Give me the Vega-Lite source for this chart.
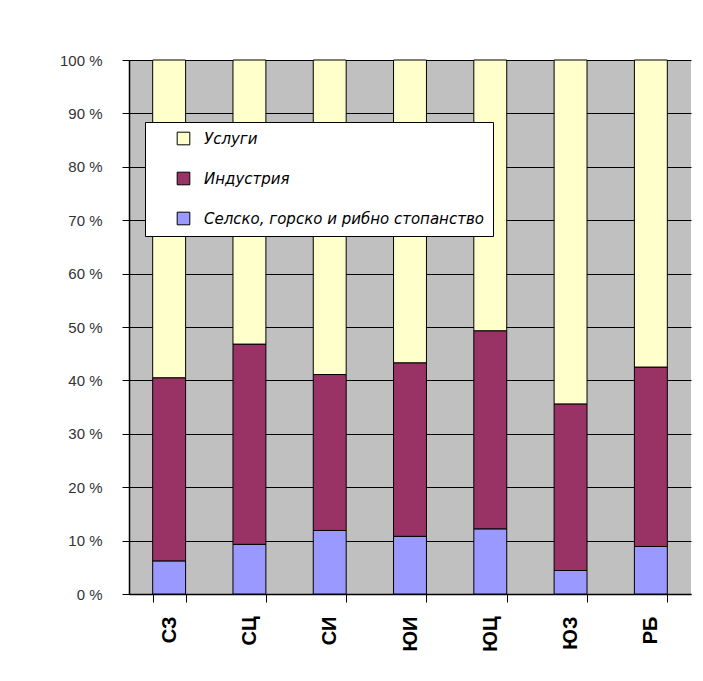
{
  "$schema": "https://vega.github.io/schema/vega-lite/v6.json",
  "width": 562,
  "height": 534,
  "autosize": {"type": "none"},
  "padding": {"left": 129, "top": 60, "right": 12, "bottom": 87},
  "background": "white",
  "config": {"view": {"fill": "#C0C0C0", "stroke": null}},
  "data": {"values": [
    {"region": "СЗ", "sector": "Селско, горско и рибно стопанство", "ord": 1, "pct": 6.2},
    {"region": "СЗ", "sector": "Индустрия", "ord": 2, "pct": 34.3},
    {"region": "СЗ", "sector": "Услуги", "ord": 3, "pct": 59.5},
    {"region": "СЦ", "sector": "Селско, горско и рибно стопанство", "ord": 1, "pct": 9.3},
    {"region": "СЦ", "sector": "Индустрия", "ord": 2, "pct": 37.5},
    {"region": "СЦ", "sector": "Услуги", "ord": 3, "pct": 53.2},
    {"region": "СИ", "sector": "Селско, горско и рибно стопанство", "ord": 1, "pct": 11.9},
    {"region": "СИ", "sector": "Индустрия", "ord": 2, "pct": 29.2},
    {"region": "СИ", "sector": "Услуги", "ord": 3, "pct": 58.9},
    {"region": "ЮИ", "sector": "Селско, горско и рибно стопанство", "ord": 1, "pct": 10.8},
    {"region": "ЮИ", "sector": "Индустрия", "ord": 2, "pct": 32.5},
    {"region": "ЮИ", "sector": "Услуги", "ord": 3, "pct": 56.7},
    {"region": "ЮЦ", "sector": "Селско, горско и рибно стопанство", "ord": 1, "pct": 12.2},
    {"region": "ЮЦ", "sector": "Индустрия", "ord": 2, "pct": 37.1},
    {"region": "ЮЦ", "sector": "Услуги", "ord": 3, "pct": 50.7},
    {"region": "ЮЗ", "sector": "Селско, горско и рибно стопанство", "ord": 1, "pct": 4.4},
    {"region": "ЮЗ", "sector": "Индустрия", "ord": 2, "pct": 31.2},
    {"region": "ЮЗ", "sector": "Услуги", "ord": 3, "pct": 64.4},
    {"region": "РБ", "sector": "Селско, горско и рибно стопанство", "ord": 1, "pct": 8.9},
    {"region": "РБ", "sector": "Индустрия", "ord": 2, "pct": 33.6},
    {"region": "РБ", "sector": "Услуги", "ord": 3, "pct": 57.5}
  ]},
  "mark": {"type": "bar", "stroke": "black", "strokeWidth": 1},
  "encoding": {
    "x": {
      "field": "region", "type": "nominal",
      "sort": ["СЗ", "СЦ", "СИ", "ЮИ", "ЮЦ", "ЮЗ", "РБ"],
      "scale": {"paddingInner": 0.59, "paddingOuter": 0.295},
      "axis": {
        "title": null, "labelAngle": -90, "labelFont": "Liberation Sans",
        "labelFontSize": 20, "labelFontWeight": "bold", "labelColor": "black",
        "labelPadding": 14, "tickBand": "extent", "tickColor": "black",
        "tickSize": 8, "domainColor": "black", "domainWidth": 1.5, "grid": false
      }
    },
    "y": {
      "field": "pct", "type": "quantitative", "stack": "zero",
      "scale": {"domain": [0, 100], "nice": false},
      "axis": {
        "title": null, "values": [0, 10, 20, 30, 40, 50, 60, 70, 80, 90, 100],
        "labelExpr": "datum.value + ' %'", "labelFont": "Liberation Sans",
        "labelFontSize": 15, "labelColor": "#333333", "labelPadding": 20,
        "tickColor": "black", "tickSize": 7, "domainColor": "black", "domainWidth": 1.5,
        "grid": true, "gridColor": "black", "gridWidth": 1.2
      }
    },
    "order": {"field": "ord", "type": "quantitative"},
    "color": {
      "field": "sector", "type": "nominal",
      "scale": {
        "domain": ["Услуги", "Индустрия", "Селско, горско и рибно стопанство"],
        "range": ["#FFFFCC", "#993366", "#9999FF"]
      },
      "legend": {
        "title": null, "orient": "none", "legendX": 16, "legendY": 62,
        "fillColor": "white", "strokeColor": "black",
        "padding": 9, "symbolType": "square", "symbolSize": 160,
        "symbolStrokeColor": "black", "symbolStrokeWidth": 1, "symbolOpacity": 1,
        "symbolOffset": 22, "labelOffset": 13,
        "labelFont": "DejaVu Sans", "labelFontStyle": "italic", "labelFontSize": 15,
        "labelColor": "black", "labelLimit": 600, "rowPadding": 23
      }
    }
  }
}
